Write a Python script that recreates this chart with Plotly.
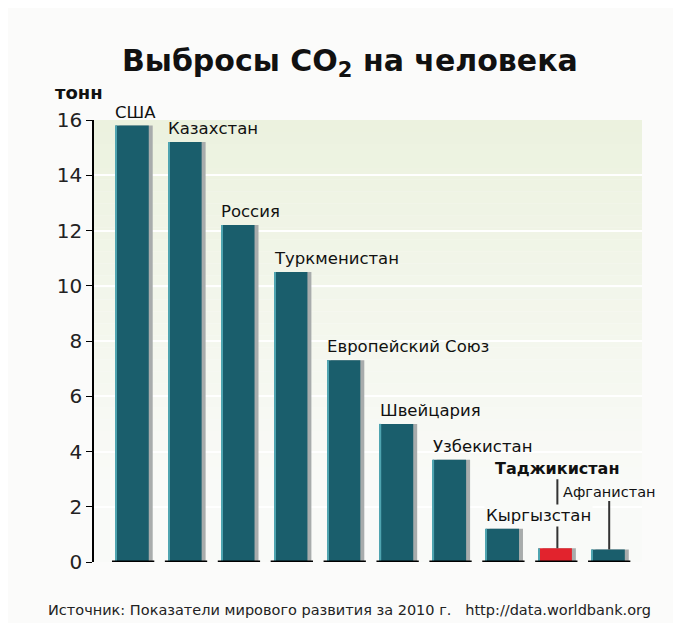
import plotly.graph_objects as go

countries = ["США", "Казахстан", "Россия", "Туркменистан", "Европейский Союз",
             "Швейцария", "Узбекистан", "Кыргызстан", "Таджикистан", "Афганистан"]
emissions = [15.8, 15.2, 12.2, 10.5, 7.3, 5.0, 3.7, 1.2, 0.5, 0.45]
y_ticks = [0, 2, 4, 6, 8, 10, 12, 14, 16]
highlight = "Таджикистан"

FONT = "DejaVu Sans, Verdana, sans-serif"
TEAL = "#1a5e6c"
RED = "#e2232d"
SHADOW = "#a8acac"
BAR_W = 0.63

pos = list(range(len(countries)))
colors = [RED if c == highlight else TEAL for c in countries]

fig = go.Figure()

# soft green gradient at the top of the plot area
n_strips = 30
top, bottom = 16, 3
c0, c1 = (236, 242, 223), (249, 250, 247)
for i in range(n_strips):
    t = i / (n_strips - 1)
    col = tuple(round(a + (b - a) * t) for a, b in zip(c0, c1))
    y_hi = top - (top - bottom) * i / n_strips
    y_lo = top - (top - bottom) * (i + 1) / n_strips
    fig.add_shape(type="rect", xref="paper", yref="y", x0=0, x1=1, y0=y_lo, y1=y_hi,
                  fillcolor="rgb(%d,%d,%d)" % col, line_width=0, layer="below")

# shadow behind bars
fig.add_trace(go.Bar(x=pos, y=emissions, width=BAR_W, offset=-BAR_W / 2 + 0.075,
                     marker=dict(color=SHADOW, line_width=0), hoverinfo="skip", showlegend=False))
# main bars
fig.add_trace(go.Bar(x=pos, y=emissions, width=BAR_W, offset=-BAR_W / 2,
                     marker=dict(color=colors, line_width=0), showlegend=False))
# light edge on the left
fig.add_trace(go.Bar(x=pos, y=emissions, width=0.025, offset=-BAR_W / 2,
                     marker=dict(color="#4fa4b0", line_width=0), hoverinfo="skip", showlegend=False))

# black base segments under each bar
bx, by = [], []
for p in pos:
    bx += [p - 0.38, p + 0.42, None]
    by += [0, 0, None]
fig.add_trace(go.Scatter(x=bx, y=by, mode="lines", line=dict(color="black", width=3),
                         cliponaxis=False, hoverinfo="skip", showlegend=False))

# labels above bars (leader lines for the two smallest)
for p, c, v in zip(pos, countries, emissions):
    if c == "Таджикистан":
        fig.add_annotation(x=p + 0.04, y=v, text="<b>" + c + "</b>", showarrow=True,
                           arrowhead=0, arrowwidth=2, arrowcolor="#333", ax=0, ay=-80,
                           font=dict(size=16, color="#111", family=FONT))
    elif c == "Афганистан":
        fig.add_annotation(x=p + 0.02, y=v, text=c, showarrow=True,
                           arrowhead=0, arrowwidth=2, arrowcolor="#333", ax=0, ay=-58,
                           font=dict(size=14.5, color="#111", family=FONT))
for p, c, v in zip(pos, countries, emissions):
    if c in ("Таджикистан", "Афганистан"):
        continue
    fig.add_annotation(x=p - BAR_W / 2 - 0.04, y=v, text=c, showarrow=False,
                       xanchor="left", yanchor="bottom", yshift=2,
                       bgcolor="#f9faf8" if c == "Кыргызстан" else None,
                       font=dict(size=16.5, color="#111", family=FONT))

fig.add_annotation(xref="paper", yref="paper", x=-0.075, y=1.0, yshift=15, text="<b>тонн</b>",
                   showarrow=False, xanchor="left", yanchor="bottom",
                   font=dict(size=18, color="#111", family=FONT))
fig.add_annotation(xref="paper", yref="paper", x=0.466, y=-0.109, text=
                   "Источник: Показатели мирового развития за 2010 г.\u00a0\u00a0 http://data.worldbank.org",
                   showarrow=False, xanchor="center", yanchor="middle",
                   font=dict(size=14.5, color="#222", family=FONT))

fig.update_layout(
    width=681, height=623,
    margin=dict(l=86, r=47, t=112, b=69),
    paper_bgcolor="#fbfbfa",
    plot_bgcolor="#f9faf8",
    barmode="overlay",
    title=dict(text="<b>Выбросы CO<sub>2</sub> на человека</b>", x=0.502, xanchor="center",
               y=0.9165, yanchor="middle", font=dict(size=30, color="#111", family=FONT)),
    xaxis=dict(range=[-0.72, 9.64], visible=False),
    yaxis=dict(range=[0, 16], tickvals=y_ticks, showline=True, linecolor="black", linewidth=1.5,
               ticks="outside", ticklen=6, tickcolor="black", showgrid=True, gridcolor="white",
               gridwidth=1.5, zeroline=False, tickfont=dict(size=20, color="#222", family=FONT)),
)

fig.write_html("out.html")
